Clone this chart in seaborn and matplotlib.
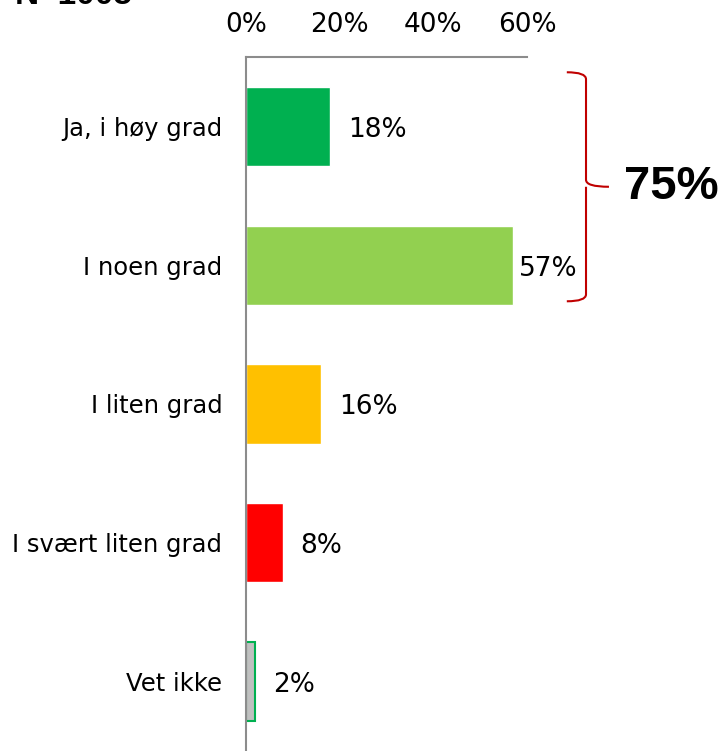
import numpy as np
import pandas as pd
import matplotlib
matplotlib.use("Agg")
import matplotlib.pyplot as plt
import seaborn as sns
from matplotlib.path import Path
from matplotlib.patches import PathPatch

# data
categories = ["Ja, i høy grad", "I noen grad", "I liten grad", "I svært liten grad", "Vet ikke"]
values = [18, 57, 16, 8, 2]
bar_colors = ["#00B050", "#92D050", "#FFC000", "#FF0000", "#C0C0C0"]
xticks = [0, 20, 40, 60]
total_label = "75%"
n_label = "N=1005"

sns.set_style("white")
plt.rcParams['font.family'] = ['DejaVu Sans']
plt.rcParams['text.color'] = 'black'
plt.rcParams['xtick.color'] = 'black'
plt.rcParams['ytick.color'] = 'black'

fig = plt.figure(figsize=(7.22, 7.51), dpi=100)
ax = fig.add_axes([246 / 722, 0.0, (527 - 246) / 722, 1 - 57 / 751])

df = pd.DataFrame({"cat": categories, "val": values})
sns.barplot(data=df, y="cat", x="val", hue="cat", palette=bar_colors,
            legend=False, width=0.57, ax=ax, saturation=1)

# green outline on the grey bar
ax.patches[-1].set_edgecolor("#00B050")
ax.patches[-1].set_linewidth(1.5)

ax.set_xlim(0, 60)
ax.set_ylim(4.5, -0.5)
ax.xaxis.tick_top()
ax.set_xticks(xticks)
ax.set_xticklabels([f"{t}%" for t in xticks], fontsize=19)
ax.tick_params(axis="x", length=0, pad=14)
ax.tick_params(axis="y", length=0, pad=17, labelsize=17.5)
for lbl in ax.get_yticklabels():
    lbl.set_va("center_baseline")
ax.set_xlabel("")
ax.set_ylabel("")
for s in ["right", "bottom"]:
    ax.spines[s].set_visible(False)
for s in ["top", "left"]:
    ax.spines[s].set_color("#8c8c8c")
    ax.spines[s].set_linewidth(1.5)

# value labels
pads = [13, 4, 13, 12, 13]
for i, v in enumerate(values):
    ax.annotate(f"{v}%", (v, i), xytext=(pads[i], -2.5), textcoords="offset points",
                ha="left", va="center", fontsize=19, annotation_clip=False)

# red brace around the first two bars
top, mid, bot = -0.39, 0.435, 1.26
x0, x1, x2 = 68.5, 72.6, 77.5
c = 0.05
verts = [(x0, top), (x1, top), (x1, top + c),
         (x1, mid - c), (x1, mid), (x2, mid),
         (x1, mid), (x1, mid + c),
         (x1, bot - c), (x1, bot), (x0, bot)]
codes = [Path.MOVETO, Path.CURVE3, Path.CURVE3,
         Path.LINETO, Path.CURVE3, Path.CURVE3,
         Path.MOVETO, Path.LINETO,
         Path.LINETO, Path.CURVE3, Path.CURVE3]
brace = PathPatch(Path(verts, codes), fill=False, edgecolor="#C00000",
                  linewidth=1.5, clip_on=False)
ax.add_patch(brace)
ax.text(x2 + 3.2, mid, total_label, ha="left", va="center", fontsize=34,
        fontweight="bold", family="Liberation Sans", color="black")

# sample size note, cut by the top edge as in the original
fig.text(15 / 722, 1 - 4 / 751, n_label, ha="left", va="baseline", fontsize=24,
         fontweight="bold", family="Liberation Sans", color="black")

fig.savefig("out.png", dpi=100)
